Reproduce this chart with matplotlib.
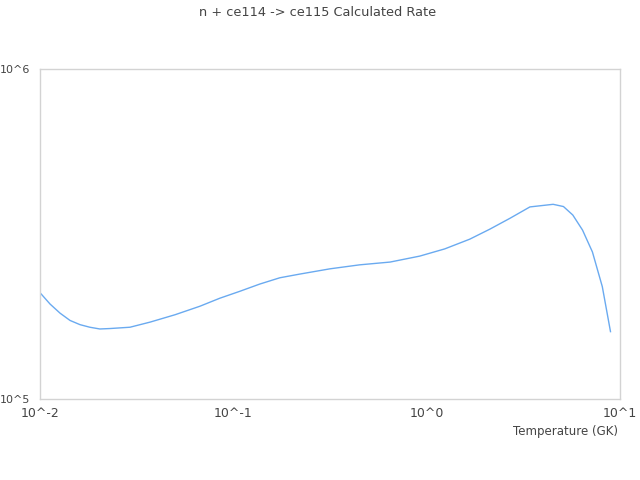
import matplotlib
matplotlib.use("Agg")
import matplotlib.pyplot as plt
from matplotlib.ticker import FixedLocator, FixedFormatter, NullLocator

# temperature (GK) and rate
temp = [0.01, 0.01127, 0.0127, 0.0143, 0.0161, 0.0181, 0.0204, 0.0230, 0.0292,
        0.0371, 0.0499, 0.0671, 0.0851, 0.108, 0.137, 0.174, 0.22, 0.316,
        0.45, 0.647, 0.92, 1.24, 1.67, 2.12, 2.7, 3.42, 4.51, 5.1, 5.7,
        6.4, 7.2, 8.1, 8.93]
rate = [2.10e5, 1.94e5, 1.82e5, 1.73e5, 1.68e5, 1.65e5, 1.63e5, 1.635e5, 1.65e5,
        1.71e5, 1.80e5, 1.91e5, 2.02e5, 2.12e5, 2.23e5, 2.33e5, 2.39e5, 2.48e5,
        2.55e5, 2.60e5, 2.71e5, 2.85e5, 3.05e5, 3.27e5, 3.53e5, 3.82e5, 3.89e5,
        3.83e5, 3.61e5, 3.25e5, 2.79e5, 2.19e5, 1.60e5]

xticks = [1e-2, 1e-1, 1e0, 1e1]
xlabels = ["10^-2", "10^-1", "10^0", "10^1"]
yticks = [1e5, 1e6]
ylabels = ["10^5", "10^6"]

GRAY = "#d3d3d3"
TXT = "#444444"

fig = plt.figure(figsize=(6.4, 4.8), dpi=100)
ax = fig.add_axes([40 / 640, 1 - 399 / 480, 580 / 640, 330 / 480])
ax.plot(temp, rate, color="#6aaaf0", lw=1.0)
ax.set_xscale("log")
ax.set_yscale("log")
ax.set_xlim(1e-2, 1e1)
ax.set_ylim(1e5, 1e6)

ax.xaxis.set_major_locator(FixedLocator(xticks))
ax.xaxis.set_major_formatter(FixedFormatter(xlabels))
ax.xaxis.set_minor_locator(NullLocator())
ax.yaxis.set_major_locator(FixedLocator(yticks))
ax.yaxis.set_major_formatter(FixedFormatter(ylabels))
ax.yaxis.set_minor_locator(NullLocator())
ax.tick_params(axis="x", length=0, labelsize=9, labelcolor=TXT, pad=6)
ax.tick_params(axis="y", length=0, labelsize=8, labelcolor=TXT, pad=7)
for s in ax.spines.values():
    s.set_color(GRAY)
    s.set_linewidth(1.0)

fig.text(618 / 640, 1 - 431 / 480, "Temperature (GK)", ha="right", va="center",
         fontsize=8.5, color=TXT)
fig.text(318 / 640, 1 - 12 / 480, "n + ce114 -> ce115 Calculated Rate",
         ha="center", va="center", fontsize=9.3, color=TXT)

fig.savefig("out.png", dpi=100)
